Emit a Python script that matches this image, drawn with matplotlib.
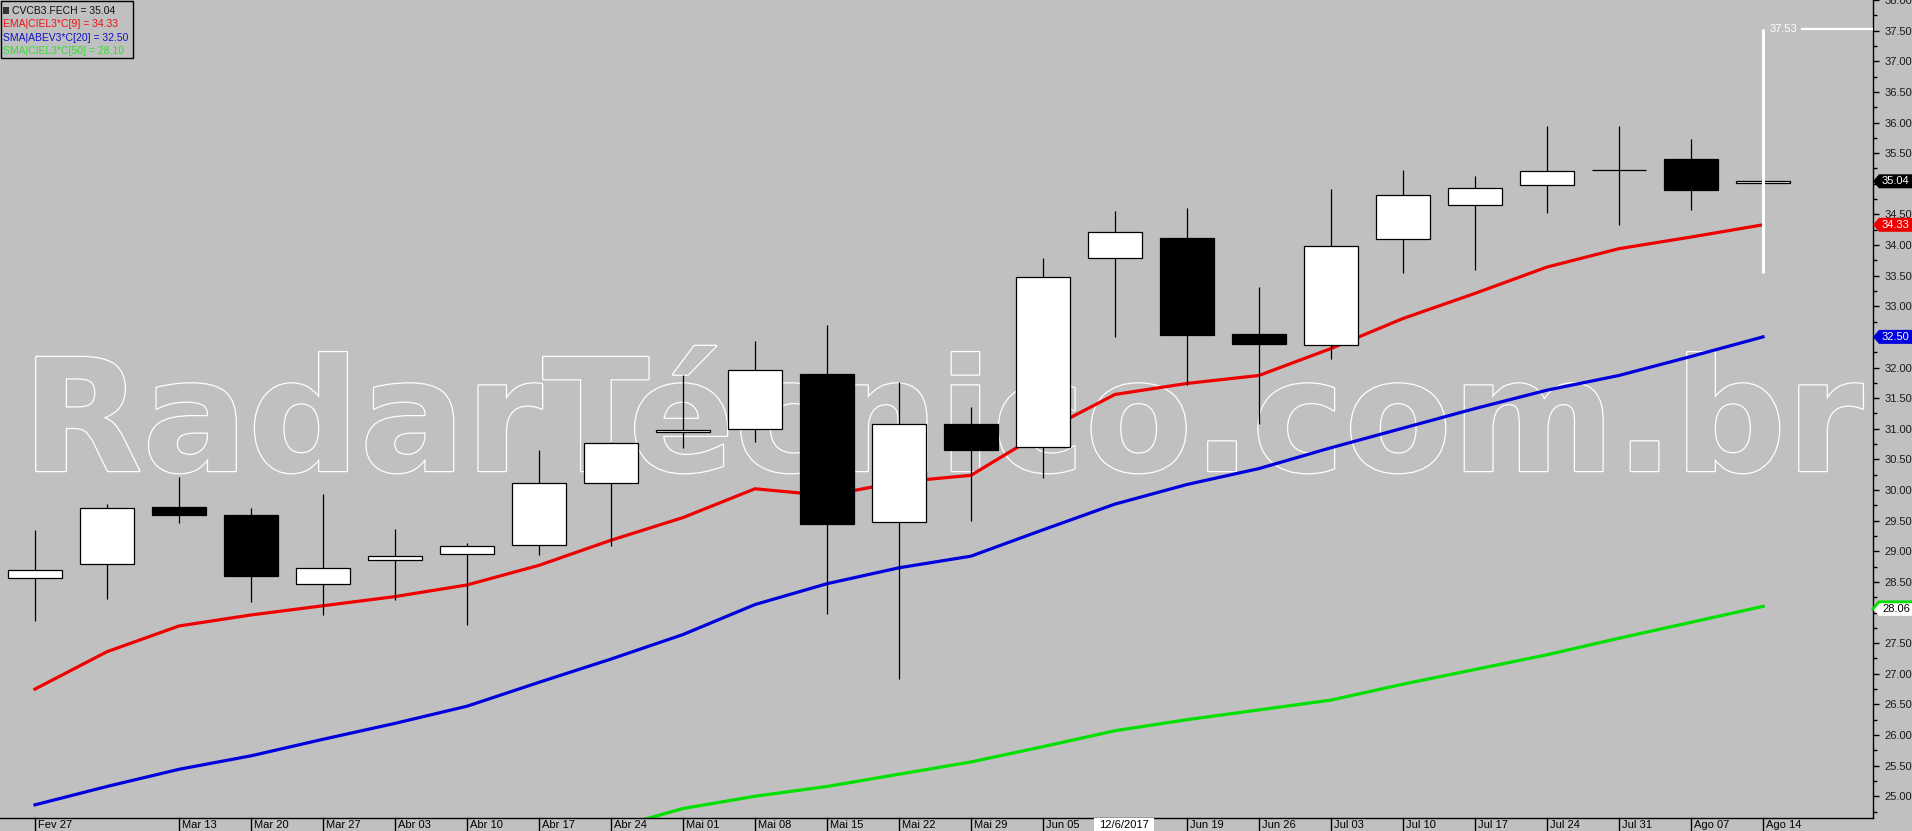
import matplotlib
matplotlib.use('Agg')
import matplotlib.pyplot as plt
import matplotlib.patheffects as pe
from matplotlib.patches import Rectangle, Polygon
from matplotlib.lines import Line2D
from matplotlib.ticker import MultipleLocator, FuncFormatter
from matplotlib.transforms import blended_transform_factory, IdentityTransform
import numpy as np

# weekly candles, CVCB3
weeks = ['Fev 27', '', 'Mar 13', 'Mar 20', 'Mar 27', 'Abr 03', 'Abr 10', 'Abr 17',
         'Abr 24', 'Mai 01', 'Mai 08', 'Mai 15', 'Mai 22', 'Mai 29', 'Jun 05',
         '12/6/2017', 'Jun 19', 'Jun 26', 'Jul 03', 'Jul 10', 'Jul 17', 'Jul 24',
         'Jul 31', 'Ago 07', 'Ago 14']
opens = [28.57, 28.80, 29.72, 29.60, 28.46, 28.85, 28.95, 29.11, 30.11, 30.95,
         31.00, 31.89, 29.47, 31.08, 30.71, 33.78, 34.12, 32.54, 32.37, 34.09,
         34.66, 34.98, 35.23, 35.41, 35.02]
highs = [29.34, 29.77, 30.22, 29.70, 29.93, 29.36, 29.13, 30.65, 30.78, 31.88,
         32.43, 32.69, 31.76, 31.35, 33.78, 34.56, 34.61, 33.32, 34.91, 35.23,
         35.12, 35.95, 35.95, 35.73, 35.05]
lows = [27.86, 28.22, 29.46, 28.17, 27.96, 28.21, 27.79, 28.94, 29.09, 30.69,
        30.78, 27.98, 26.92, 29.50, 30.19, 32.50, 31.71, 31.08, 32.14, 33.54,
        33.59, 34.52, 34.32, 34.57, 35.02]
closes = [28.70, 29.71, 29.59, 28.60, 28.73, 28.92, 29.09, 30.12, 30.77, 30.98,
          31.96, 29.45, 31.08, 30.66, 33.47, 34.22, 32.53, 32.38, 33.99, 34.82,
          34.93, 35.21, 35.23, 34.89, 35.04]
ema9 = [26.75, 27.36, 27.78, 27.96, 28.11, 28.26, 28.45, 28.77, 29.18, 29.55,
        30.02, 29.91, 30.13, 30.24, 30.95, 31.56, 31.74, 31.87, 32.31, 32.80,
        33.21, 33.64, 33.94, 34.13, 34.33]
sma20 = [24.86, 25.16, 25.44, 25.66, 25.93, 26.19, 26.47, 26.86, 27.24, 27.64,
         28.13, 28.47, 28.73, 28.92, 29.35, 29.77, 30.09, 30.35, 30.69, 31.01,
         31.33, 31.63, 31.87, 32.18, 32.50]
sma50 = [np.nan] * 8 + [24.47, 24.80, 25.00, 25.16, 25.36, 25.56, 25.81, 26.07,
                        26.25, 26.41, 26.57, 26.83, 27.07, 27.31, 27.58, 27.84, 28.10]
legend_lines = ['CVCB3.FECH = 35.04', 'EMA|CIEL3*C[9] = 34.33',
                'SMA|ABEV3*C[20] = 32.50', 'SMA|CIEL3*C[50] = 28.10']
tags = [(35.04, '35.04'), (34.33, '34.33'), (32.50, '32.50'), (28.06, '28.06')]
cursor_low, cursor_high = 33.55, 37.53

BG = '#c0c0c0'
W, H = 1912, 831
plt.rcParams['font.family'] = ['Liberation Sans', 'DejaVu Sans']

fig = plt.figure(figsize=(W / 100, H / 100), dpi=100, facecolor=BG)
ax = fig.add_axes([0, 13 / H, 1873 / W, 818 / H])
ax.set_facecolor(BG)

x = np.arange(len(weeks))
ax.set_xlim(-35 / 72, (1873 - 35) / 72)
ax.set_ylim(24.645, 38.0)

# watermark (outlined), fitted to the width seen in the chart
wm = ax.text(22, H - 471, 'RadarTécnico.com.br', transform=IdentityTransform(),
             fontsize=110, family='DejaVu Sans', weight='bold', color=BG,
             ha='left', va='baseline', zorder=0.5,
             path_effects=[pe.withStroke(linewidth=1.8, foreground='white')])
renderer = fig.canvas.get_renderer()
bb = wm.get_window_extent(renderer)
wm.set_fontsize(110 * 1842 / bb.width)

# moving averages
ax.plot(x, ema9, color='#ee0000', lw=2.3, zorder=2)
ax.plot(x, sma20, color='#0000dd', lw=2.3, zorder=2)
ax.plot(x, sma50, color='#00e000', lw=2.3, zorder=2)

# candles
bw = 0.74
for i in range(len(weeks)):
    ax.vlines(x[i], lows[i], highs[i], color='black', lw=0.9, zorder=3)
    lo = min(opens[i], closes[i])
    h = abs(closes[i] - opens[i])
    fc = 'white' if closes[i] >= opens[i] else 'black'
    ax.add_patch(Rectangle((x[i] - bw / 2, lo), bw, h, facecolor=fc,
                           edgecolor='black', lw=0.9, zorder=4))

# cursor line on last bar
last = x[-1]
ax.vlines(last, cursor_low, cursor_high, color='white', lw=2.2, zorder=5)
ax.hlines(cursor_high, last + 0.53, ax.get_xlim()[1], color='white', lw=1.6, zorder=5)
ax.text(last + 0.47, cursor_high, '37.53', color='white', fontsize=8,
        ha='right', va='center', zorder=5)

# axes styling
for s in ['left', 'top']:
    ax.spines[s].set_visible(False)
for s in ['right', 'bottom']:
    ax.spines[s].set_color('black')
    ax.spines[s].set_linewidth(1)
ax.set_xticks([])
ax.yaxis.tick_right()
ax.yaxis.set_major_locator(MultipleLocator(0.5))
ax.yaxis.set_minor_locator(MultipleLocator(0.25))


def price_fmt(v, pos):
    # labels hidden behind the price tags
    if any(abs(v - t) < 0.08 for t, _ in tags):
        return ''
    return f'{v:.2f}'


ax.yaxis.set_major_formatter(FuncFormatter(price_fmt))
ax.tick_params(axis='y', which='major', length=4, width=1, pad=4,
               labelsize=8, labelcolor='#1a1a1a', color='black')
ax.tick_params(axis='y', which='minor', length=3, width=1, color='black')

# date strip
tr = blended_transform_factory(ax.transData, ax.transAxes)
strip = 13 / 818
for i, lab in enumerate(weeks):
    if not lab:
        continue
    if lab == '12/6/2017':
        ax.add_patch(Rectangle((i - 0.29, -strip), 0.83, strip, transform=tr,
                               facecolor='white', edgecolor='none', clip_on=False, zorder=6))
        ax.text(i + 0.125, -strip / 2, lab, transform=tr, fontsize=8, ha='center',
                va='center', clip_on=False, zorder=7)
        continue
    ax.add_line(Line2D([i, i], [0, -strip], transform=tr, color='black', lw=1,
                       clip_on=False))
    ax.text(i + 0.045, -strip / 2, lab, transform=tr, fontsize=8, ha='left',
            va='center', clip_on=False)

# price tags on the right scale
tag_style = [('black', 'white', None), ('#ee0000', 'white', None),
             ('#0000dd', 'white', None), ('white', 'black', '#00e000')]
for (val, txt), (fc, tc, top) in zip(tags, tag_style):
    yc = ax.transData.transform((0, val))[1]
    pts = [(1873, yc), (1879, yc + 7), (W, yc + 7), (W, yc - 7), (1879, yc - 7)]
    fig.add_artist(Polygon(pts, closed=True, transform=IdentityTransform(),
                           facecolor=fc, edgecolor='none', zorder=5))
    if top:
        fig.add_artist(Line2D([1873, 1879, W], [yc, yc + 7, yc + 7],
                              transform=IdentityTransform(), color=top, lw=2, zorder=6))
    fig.text(1882 / W, yc / H, txt, color=tc, fontsize=8, ha='left', va='center', zorder=7)

# legend box
fig.add_artist(Rectangle((1, H - 58), 132, 57, transform=IdentityTransform(),
                         fill=False, edgecolor='black', lw=1, zorder=8))
fig.add_artist(Rectangle((3, H - 14), 6, 7, transform=IdentityTransform(),
                         facecolor='#333333', edgecolor='none', zorder=8))
leg_colors = ['#111111', '#ee1111', '#1111cc', '#33dd33']
leg_x = [12.5, 2.7, 2.7, 2.7]
for k, (txt, c) in enumerate(zip(legend_lines, leg_colors)):
    fig.text(leg_x[k] / W, 1 - (11 + 13.3 * k) / H, txt, color=c, fontsize=7.5,
             ha='left', va='center', zorder=8)

fig.savefig('out.png', dpi=100, facecolor=BG)
